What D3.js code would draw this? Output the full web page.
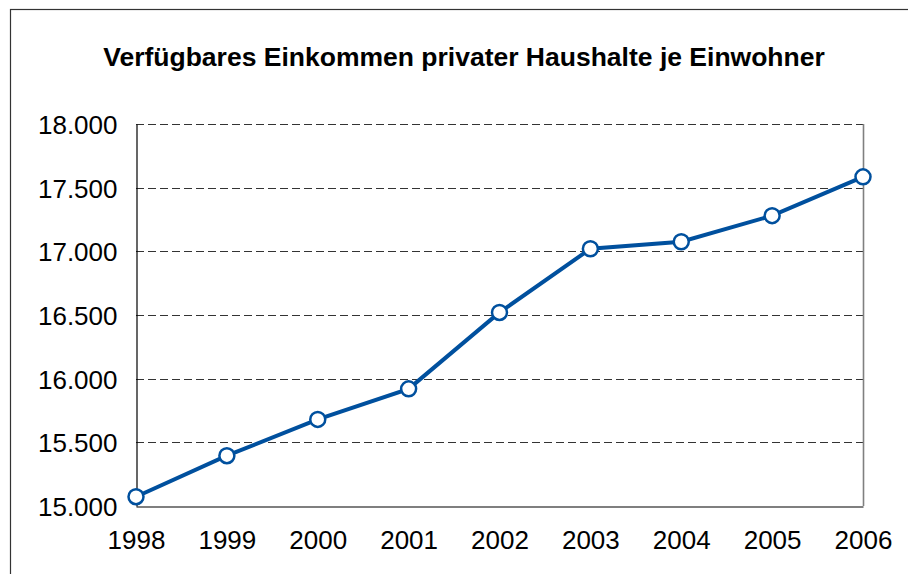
<!DOCTYPE html>
<html>
<head>
<meta charset="utf-8">
<script src="https://cdn.jsdelivr.net/npm/d3@7"></script>
<style>
  body { margin: 0; background: #fff; }
  svg { display: block; font-family: "Liberation Sans", Arial, sans-serif; }
</style>
</head>
<body>
<div id="chart"></div>
<script>
const years = ["1998", "1999", "2000", "2001", "2002", "2003", "2004", "2005", "2006"];
const income = [15073, 15395, 15680, 15920, 16520, 17020, 17075, 17280, 17585];
const yTicks = [15000, 15500, 16000, 16500, 17000, 17500, 18000];
const title = "Verfügbares Einkommen privater Haushalte je Einwohner";

const width = 908;
const height = 574;
const margin = { top: 124, right: 45, bottom: 68, left: 136 };

const svg = d3.select("#chart")
    .append("svg")
    .attr("width", width)
    .attr("height", height);

// outer frame, runs off the right and bottom edge
svg.append("rect")
    .attr("x", 10.5)
    .attr("y", 9.5)
    .attr("width", 920)
    .attr("height", 600)
    .attr("fill", "none")
    .attr("stroke", "#333")
    .attr("stroke-width", 1.2);

svg.append("text")
    .attr("x", 464)
    .attr("y", 66)
    .attr("text-anchor", "middle")
    .attr("font-size", 26.5)
    .attr("font-weight", "bold")
    .attr("fill", "#000")
    .text(title);

const x = d3.scalePoint()
    .domain(years)
    .range([margin.left, width - margin.right]);

const y = d3.scaleLinear()
    .domain([15000, 18000])
    .range([height - margin.bottom, margin.top]);

const fmt = d3.formatLocale({ decimal: ",", thousands: ".", grouping: [3], currency: ["", " €"] }).format(",.0f");

// dashed grid
svg.append("g")
    .selectAll("line")
    .data(yTicks.filter(d => d > 15000))
    .join("line")
    .attr("x1", margin.left)
    .attr("x2", width - margin.right)
    .attr("y1", d => Math.round(y(d)) + 0.5)
    .attr("y2", d => Math.round(y(d)) + 0.5)
    .attr("stroke", "#333")
    .attr("stroke-width", 1.2)
    .attr("stroke-dasharray", "8,4");

// right border of plot area
svg.append("line")
    .attr("x1", width - margin.right + 0.5)
    .attr("x2", width - margin.right + 0.5)
    .attr("y1", margin.top)
    .attr("y2", height - margin.bottom)
    .attr("stroke", "#808080")
    .attr("stroke-width", 1.6);

// y axis
const yAxis = svg.append("g")
    .attr("transform", `translate(${margin.left + 0.5},0)`)
    .call(d3.axisLeft(y).tickValues(yTicks).tickSize(0).tickPadding(19).tickFormat(fmt));
yAxis.select(".domain").attr("stroke", "#000").attr("stroke-width", 1.2);
yAxis.selectAll("text")
    .attr("font-size", 26)
    .attr("font-family", "Liberation Sans, Arial, sans-serif")
    .attr("fill", "#000")
    .attr("dy", "0.36em");

// x axis
const xAxis = svg.append("g")
    .attr("transform", `translate(0,${height - margin.bottom + 0.5})`)
    .call(d3.axisBottom(x).tickSize(0).tickPadding(24));
xAxis.select(".domain").attr("stroke", "#000").attr("stroke-width", 1.2);
xAxis.selectAll("text")
    .attr("font-size", 26)
    .attr("font-family", "Liberation Sans, Arial, sans-serif")
    .attr("fill", "#000");

const line = d3.line()
    .x((d, i) => x(years[i]))
    .y(d => y(d));

svg.append("path")
    .datum(income)
    .attr("d", line)
    .attr("fill", "none")
    .attr("stroke", "#00509e")
    .attr("stroke-width", 4);

svg.append("g")
    .selectAll("circle")
    .data(income)
    .join("circle")
    .attr("cx", (d, i) => x(years[i]))
    .attr("cy", d => y(d))
    .attr("r", 7.5)
    .attr("fill", "#fff")
    .attr("stroke", "#00509e")
    .attr("stroke-width", 2.5);
</script>
</body>
</html>
